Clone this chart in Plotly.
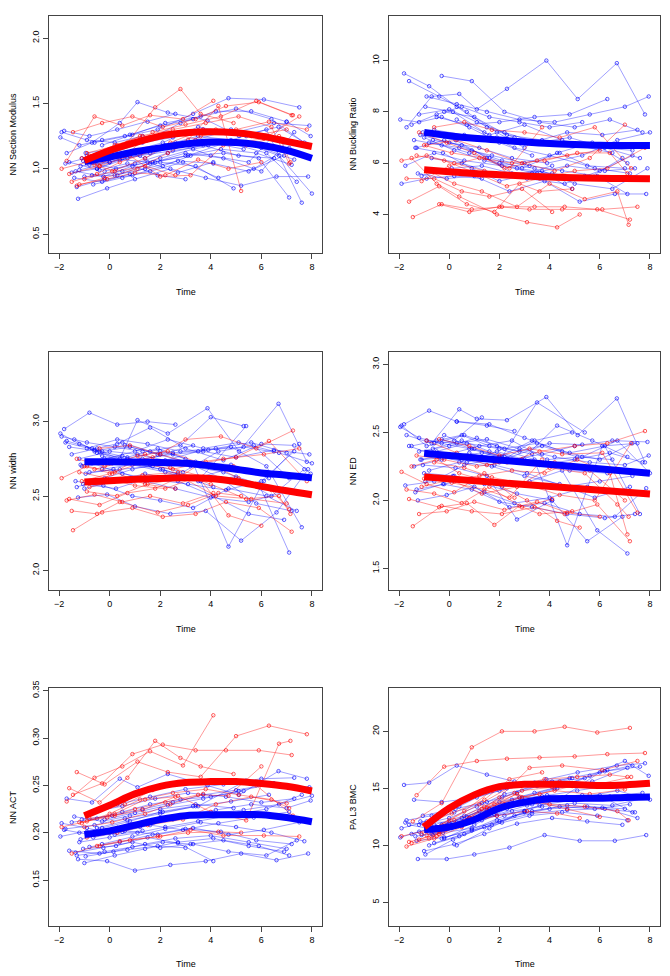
import plotly.graph_objects as go

# ---------------- data ----------------
blue_times = [
    [-1.95, -1.2, -0.3, 0.8, 2.0, 3.3],
    [-1.8, -0.8, 0.3, 1.5, 2.6],
    [-1.7, -0.7, 0.4, 1.1, 2.3, 3.87, 5.12, 6.68, 7.8],
    [-1.5, -0.5, 0.5, 1.6, 2.8, 4.0, 5.3],
    [-1.3, -0.2, 0.9, 2.1, 3.2, 4.5, 5.9, 7.1],
    [-1.2, 0.0, 1.1, 2.2, 3.5, 4.8, 6.2, 7.6],
    [-1.1, 0.1, 1.3, 2.5, 3.7, 5.0, 6.5, 7.9],
    [-1.0, 0.2, 1.4, 2.7, 4.1, 5.5, 6.9],
    [-0.9, 0.3, 1.5, 2.8, 4.2, 5.6, 7.0, 7.95],
    [-0.8, 0.4, 1.7, 3.0, 4.4, 5.8, 7.2],
    [-0.7, 0.5, 1.8, 3.1, 4.6, 6.0, 7.3],
    [-0.6, 0.6, 1.9, 3.3, 4.7, 6.1, 7.5],
    [-1.6, -0.4, 0.7, 1.9, 3.0],
    [-1.4, -0.3, 0.8, 2.0, 3.4, 4.9],
    [-1.25, -0.1, 1.0, 2.4, 3.8, 5.2, 6.6, 7.85],
    [-0.5, 0.7, 2.0, 3.4, 4.8, 6.3],
    [-0.3, 0.9, 2.2, 3.6, 5.0, 6.4, 7.7],
    [-1.9, -0.9, 0.2, 1.3],
    [-1.75, -0.6, 0.6, 2.1, 3.5, 5.4],
    [-1.15, 0.0, 1.2, 2.5, 3.9, 5.3, 6.7, 8.0],
    [-0.95, 0.15, 1.4, 2.6, 4.0, 5.5, 7.0],
    [-0.2, 1.0, 2.3, 3.7, 5.1, 6.5],
    [-1.35, -0.25, 0.9, 2.0, 3.3, 4.7, 6.2, 7.4],
    [-0.65, 0.5, 1.6, 2.9, 4.3, 5.7, 7.1],
    [-1.05, 0.25, 1.5, 2.7, 4.1],
    [0.3, 1.6, 3.0, 4.5, 6.0, 7.3],
]
red_times = [
    [-1.9, -0.9, 0.2, 1.4, 2.6],
    [-1.6, -0.4, 0.7, 1.8, 2.8, 3.6, 4.9],
    [-1.45, -0.3, 0.9, 2.1, 3.4, 4.6, 5.9, 7.2],
    [-1.3, -0.2, 1.1, 2.3, 3.6, 5.0, 6.3, 7.8],
    [-1.1, 0.0, 1.2, 2.5, 3.8, 5.1, 6.4, 7.1],
    [-0.9, 0.3, 1.5, 2.9, 4.2, 5.6, 7.0],
    [-0.6, 0.6, 1.7, 3.0, 4.4, 5.8, 7.25],
    [-1.7, -0.6, 0.5, 1.6, 2.9, 4.1],
    [-1.2, -0.1, 1.0, 2.2, 3.5, 4.7, 6.0],
    [-0.4, 0.8, 2.0, 3.2, 4.5, 6.1, 7.5],
    [-1.5, -0.5, 0.4, 1.9, 3.1, 4.3, 5.2],
    [-0.8, 0.2, 1.3, 2.7, 4.0, 5.4, 6.7, 7.15],
    [-1.0, 0.1, 1.4, 2.4, 3.7],
]

sm_blue = [
    [1.24, 1.18, 1.22, 1.26, 1.33, 1.38],
    [1.29, 1.25, 1.30, 1.36, 1.42],
    [1.12, 1.20, 1.35, 1.51, 1.43, 1.37, 1.25, 1.32, 1.19],
    [0.97, 1.00, 1.08, 1.12, 1.18, 1.20, 1.15],
    [0.86, 0.92, 0.95, 1.02, 1.10, 1.12, 1.08, 0.78],
    [0.99, 1.05, 1.13, 1.18, 1.25, 1.22, 1.30, 0.74],
    [1.08, 1.12, 1.20, 1.24, 1.30, 1.28, 1.35, 1.33],
    [0.94, 0.95, 1.00, 1.06, 1.04, 0.98, 1.10],
    [1.10, 1.15, 1.22, 1.35, 1.44, 1.44, 1.36, 1.25],
    [1.03, 1.07, 1.05, 1.10, 1.15, 1.12, 1.03],
    [0.95, 0.98, 1.05, 1.10, 1.20, 1.16, 1.07],
    [1.20, 1.25, 1.30, 1.42, 1.54, 1.53, 1.47],
    [1.05, 0.99, 1.04, 0.95, 0.92],
    [0.93, 0.90, 0.96, 1.05, 1.02, 0.85],
    [0.77, 0.85, 0.92, 1.00, 0.93, 0.87, 0.94, 0.94],
    [1.00, 1.08, 1.15, 1.22, 1.30, 1.24],
    [1.18, 1.26, 1.35, 1.40, 1.46, 1.38, 1.20],
    [1.28, 1.22, 1.20, 1.25],
    [1.04, 1.10, 1.12, 1.20, 1.32, 1.25],
    [1.02, 1.05, 1.10, 1.14, 1.18, 1.20, 1.10, 0.81],
    [1.12, 1.15, 1.08, 1.20, 1.10, 1.05, 1.36],
    [0.98, 1.04, 1.12, 1.18, 1.10, 1.08],
    [0.98, 0.94, 1.02, 1.08, 1.15, 1.20, 1.12, 0.90],
    [0.88, 0.93, 0.98, 1.05, 0.93, 1.00, 1.16],
    [1.06, 1.00, 1.05, 0.97, 1.05],
    [0.95, 1.04, 1.12, 1.08, 0.98, 1.28],
]
sm_red = [
    [1.00, 1.05, 0.98, 1.02, 0.95],
    [0.96, 1.02, 1.20, 1.47, 1.61, 1.42, 1.35],
    [1.28, 1.35, 1.40, 1.32, 1.38, 1.48, 1.51, 1.41],
    [0.87, 0.93, 1.00, 1.12, 1.25, 1.30, 1.36, 1.30],
    [1.08, 1.15, 1.25, 1.30, 1.35, 1.40, 1.32, 1.04],
    [1.12, 1.18, 1.22, 1.28, 1.30, 1.25, 1.30],
    [1.03, 1.10, 1.28, 1.34, 1.40, 1.52, 1.41],
    [1.06, 1.40, 1.33, 1.41, 1.38, 1.52],
    [0.88, 0.92, 0.97, 0.95, 1.07, 1.00, 1.05],
    [1.02, 1.10, 0.94, 0.95, 1.18, 1.23, 1.40],
    [0.90, 0.96, 1.05, 1.15, 1.22, 1.48, 0.83],
    [1.10, 1.18, 1.25, 1.26, 1.20, 1.18, 1.25, 1.05],
    [0.92, 0.98, 1.08, 1.20, 1.30],
]

br_blue = [
    [7.7, 7.6, 7.8, 7.4, 6.8, 6.3],
    [9.5, 9.0, 8.2, 7.4, 7.0],
    [7.4, 8.6, 8.7, 8.1, 8.9, 10.0, 8.5, 9.9, 7.9],
    [7.5, 7.9, 8.2, 7.8, 7.6, 7.4, 7.6],
    [6.6, 6.9, 6.5, 6.1, 5.9, 5.7, 5.5, 4.8],
    [7.9, 8.1, 7.6, 7.2, 6.8, 7.0, 6.6, 6.2],
    [5.5, 5.8, 5.9, 5.6, 5.7, 5.2, 5.0, 5.8],
    [7.0, 6.5, 6.1, 5.8, 5.6, 5.4, 6.2],
    [8.6, 8.3, 8.0, 7.7, 7.6, 7.9, 8.2, 8.6],
    [6.8, 6.6, 6.3, 6.0, 6.4, 5.8, 5.6],
    [6.2, 6.0, 5.6, 5.4, 5.2, 5.7, 6.3],
    [7.3, 7.1, 7.0, 6.8, 7.2, 7.1, 7.3],
    [9.2, 8.6, 8.0, 7.2, 6.6],
    [6.9, 6.7, 6.4, 6.0, 5.8, 5.0],
    [5.6, 5.4, 5.5, 4.9, 5.3, 4.5, 4.8, 4.8],
    [7.8, 7.5, 7.6, 7.8, 7.9, 8.5],
    [9.4, 9.2, 8.0, 7.6, 7.4, 7.7, 7.2],
    [5.2, 5.4, 5.5, 5.4],
    [5.9, 6.4, 6.1, 5.9, 5.6, 5.5],
    [7.1, 6.8, 6.6, 6.2, 6.0, 6.3, 6.9, 7.2],
    [8.2, 8.0, 7.2, 6.6, 6.3, 5.9, 5.8],
    [8.0, 7.8, 7.1, 6.9, 6.7, 6.4],
    [6.6, 6.4, 5.8, 5.3, 5.6, 5.9, 5.7, 5.8],
    [6.9, 6.7, 6.2, 5.8, 6.4, 6.8, 6.0],
    [7.2, 6.9, 6.2, 5.5, 5.9],
    [7.7, 7.1, 7.5, 6.9, 6.6, 6.5],
]
br_red = [
    [6.1, 6.3, 6.0, 5.7, 5.5],
    [4.5, 5.1, 4.4, 4.1, 5.2, 4.9, 5.0],
    [3.9, 4.4, 4.2, 4.3, 4.3, 4.3, 4.2, 3.8],
    [6.3, 6.1, 5.6, 5.1, 5.4, 5.7, 5.8, 6.6],
    [5.3, 5.9, 6.2, 6.0, 6.1, 6.4, 6.4, 5.6],
    [6.7, 6.9, 6.5, 6.0, 5.7, 6.2, 7.5],
    [7.4, 7.6, 7.3, 7.2, 7.0, 7.4, 5.8],
    [5.4, 5.4, 4.9, 4.7, 5.0, 4.1],
    [7.2, 6.8, 6.4, 5.8, 6.1, 6.3, 6.5],
    [4.4, 4.1, 4.3, 4.2, 4.2, 4.2, 4.3],
    [6.2, 5.2, 4.7, 4.0, 3.7, 3.5, 4.0],
    [5.7, 5.2, 4.9, 4.3, 5.2, 4.6, 4.9, 3.6],
    [6.7, 6.4, 6.2, 5.8, 7.4],
]

wd_blue = [
    [2.92, 2.85, 2.80, 2.83, 2.78, 2.84],
    [2.95, 3.06, 2.98, 3.00, 2.98],
    [2.87, 2.82, 2.75, 3.01, 2.92, 3.09, 2.80, 3.12, 2.73],
    [2.78, 2.82, 2.86, 2.80, 2.84, 3.03, 2.97],
    [2.56, 2.62, 2.68, 2.72, 2.70, 2.66, 2.58, 2.12],
    [2.75, 2.80, 2.78, 2.74, 2.80, 2.83, 2.70, 2.29],
    [2.70, 2.72, 2.75, 2.78, 2.80, 2.76, 2.81, 2.78],
    [2.55, 2.60, 2.65, 2.60, 2.50, 2.38, 2.34],
    [2.82, 2.88, 2.85, 2.80, 2.82, 2.86, 2.79, 2.65],
    [2.66, 2.68, 2.70, 2.73, 2.62, 2.45, 2.40],
    [2.72, 2.65, 2.61, 2.58, 2.54, 2.60, 2.80],
    [2.80, 2.84, 2.78, 2.72, 2.16, 2.60, 2.85],
    [2.83, 2.80, 2.76, 2.82, 2.75],
    [2.88, 2.77, 2.73, 2.68, 2.62, 2.69],
    [2.49, 2.51, 2.43, 2.38, 2.40, 2.20, 2.39, 2.68],
    [2.79, 2.75, 2.80, 2.73, 2.71, 2.62],
    [2.68, 2.71, 2.66, 2.60, 2.63, 2.50, 2.68],
    [2.90, 2.86, 2.83, 2.80],
    [2.86, 2.81, 2.72, 2.68, 2.60, 2.97],
    [2.71, 2.72, 2.74, 2.79, 2.81, 2.83, 2.79, 2.72],
    [2.65, 2.68, 2.60, 2.55, 2.49, 2.46, 2.53],
    [2.75, 2.80, 2.88, 2.82, 2.86, 2.80],
    [2.60, 2.57, 2.50, 2.47, 2.42, 2.55, 2.50, 2.40],
    [2.73, 2.77, 2.71, 2.66, 2.80, 2.84, 2.62],
    [2.58, 2.55, 2.62, 2.65, 2.56],
    [2.85, 2.96, 2.82, 2.74, 2.85, 2.84],
]
wd_red = [
    [2.62, 2.70, 2.66, 2.58, 2.55],
    [2.48, 2.44, 2.52, 2.55, 2.63, 2.72, 2.70],
    [2.27, 2.39, 2.42, 2.36, 2.38, 2.46, 2.42, 2.26],
    [2.75, 2.70, 2.77, 2.80, 2.72, 2.76, 2.87, 2.60],
    [2.60, 2.65, 2.72, 2.68, 2.73, 2.62, 2.54, 2.41],
    [2.53, 2.50, 2.58, 2.62, 2.50, 2.48, 2.45],
    [2.68, 2.73, 2.76, 2.88, 2.90, 2.82, 2.94],
    [2.47, 2.51, 2.46, 2.50, 2.45, 2.52],
    [2.66, 2.62, 2.57, 2.55, 2.63, 2.37, 2.30],
    [2.82, 2.84, 2.78, 2.72, 2.75, 2.78, 2.82],
    [2.40, 2.38, 2.46, 2.39, 2.44, 2.52, 2.50],
    [2.56, 2.60, 2.64, 2.66, 2.58, 2.48, 2.50, 2.38],
    [2.70, 2.65, 2.78, 2.69, 2.63],
]

ed_blue = [
    [2.54, 2.46, 2.42, 2.38, 2.32, 2.44],
    [2.56, 2.66, 2.58, 2.55, 2.51],
    [2.48, 2.42, 2.67, 2.60, 2.59, 2.76, 2.48, 2.75, 2.28],
    [2.40, 2.44, 2.48, 2.40, 2.36, 2.42, 2.41],
    [2.08, 2.12, 2.16, 2.10, 2.14, 2.22, 1.78, 1.61],
    [2.36, 2.40, 2.46, 2.38, 2.42, 2.35, 2.40, 1.90],
    [2.30, 2.32, 2.35, 2.30, 2.34, 2.40, 2.44, 2.43],
    [2.20, 2.18, 2.12, 2.05, 2.00, 1.70, 1.88],
    [2.44, 2.42, 2.45, 2.38, 2.32, 2.28, 2.26, 2.33],
    [2.22, 2.28, 2.25, 2.18, 2.12, 2.02, 2.10],
    [2.35, 2.30, 2.26, 2.20, 2.10, 2.14, 2.18],
    [2.42, 2.48, 2.40, 2.34, 1.67, 2.40, 2.42],
    [2.40, 2.32, 2.28, 2.36, 2.30],
    [2.25, 2.30, 2.35, 2.28, 2.44, 2.50],
    [2.00, 2.04, 2.10, 1.95, 1.98, 1.90, 1.88, 2.09],
    [2.36, 2.42, 2.38, 2.30, 2.22, 2.20],
    [2.45, 2.38, 2.32, 2.26, 2.30, 2.35, 2.28],
    [2.55, 2.40, 2.44, 2.61],
    [2.11, 2.14, 2.26, 2.32, 2.72, 2.50],
    [2.30, 2.34, 2.40, 2.44, 2.30, 2.32, 2.44, 2.20],
    [2.14, 2.18, 2.06, 1.98, 2.02, 2.10, 2.06],
    [2.48, 2.38, 2.31, 2.40, 2.32, 2.30],
    [2.06, 2.12, 2.08, 1.99, 1.95, 1.90, 1.87, 1.90],
    [2.38, 2.44, 2.36, 2.30, 2.55, 2.44, 2.32],
    [2.26, 2.24, 2.18, 1.86, 2.00],
    [2.58, 2.56, 2.46, 2.36, 2.30, 2.42],
]
ed_red = [
    [2.21, 2.12, 2.06, 2.20, 2.02],
    [2.01, 1.95, 1.98, 1.82, 1.96, 1.90, 1.92],
    [1.81, 1.96, 1.92, 1.90, 1.95, 1.90, 1.97, 1.70],
    [2.33, 2.30, 2.25, 2.28, 2.36, 2.40, 2.42, 2.51],
    [2.10, 2.15, 2.18, 2.22, 2.20, 2.30, 2.20, 1.75],
    [2.44, 2.35, 2.26, 2.30, 2.28, 2.22, 2.00],
    [2.28, 2.24, 2.17, 2.12, 2.04, 2.00, 2.42],
    [2.08, 2.05, 1.98, 2.10, 1.95, 2.01],
    [1.90, 1.92, 1.99, 1.93, 1.99, 1.91, 1.88],
    [2.45, 2.40, 2.33, 2.38, 2.34, 2.35, 1.91],
    [2.25, 2.30, 2.20, 2.12, 2.00, 1.85, 1.80],
    [2.18, 2.14, 2.05, 2.10, 2.24, 2.20, 1.97, 1.88],
    [2.16, 2.13, 2.08, 2.02, 2.30],
]

act_blue = [
    [0.196, 0.200, 0.205, 0.212, 0.222, 0.228],
    [0.203, 0.198, 0.205, 0.210, 0.215],
    [0.236, 0.232, 0.257, 0.248, 0.262, 0.250, 0.240, 0.265, 0.257],
    [0.211, 0.215, 0.222, 0.230, 0.235, 0.238, 0.244],
    [0.176, 0.180, 0.185, 0.190, 0.188, 0.192, 0.186, 0.176],
    [0.190, 0.195, 0.200, 0.206, 0.212, 0.218, 0.225, 0.240],
    [0.214, 0.218, 0.225, 0.232, 0.240, 0.245, 0.252, 0.248],
    [0.168, 0.176, 0.183, 0.190, 0.194, 0.186, 0.180],
    [0.201, 0.205, 0.212, 0.218, 0.224, 0.230, 0.226, 0.234],
    [0.185, 0.190, 0.198, 0.204, 0.201, 0.192, 0.188],
    [0.222, 0.228, 0.236, 0.242, 0.238, 0.232, 0.236],
    [0.198, 0.202, 0.198, 0.205, 0.198, 0.203, 0.211],
    [0.181, 0.178, 0.182, 0.186, 0.184],
    [0.217, 0.212, 0.218, 0.225, 0.230, 0.226],
    [0.172, 0.170, 0.160, 0.166, 0.170, 0.178, 0.171, 0.178],
    [0.205, 0.213, 0.220, 0.228, 0.233, 0.240],
    [0.188, 0.196, 0.204, 0.211, 0.206, 0.200, 0.191],
    [0.210, 0.205, 0.198, 0.202],
    [0.204, 0.208, 0.215, 0.222, 0.228, 0.255],
    [0.193, 0.200, 0.206, 0.214, 0.220, 0.224, 0.230, 0.239],
    [0.175, 0.180, 0.188, 0.194, 0.197, 0.190, 0.183],
    [0.214, 0.221, 0.229, 0.236, 0.244, 0.252],
    [0.179, 0.184, 0.190, 0.184, 0.188, 0.180, 0.176, 0.192],
    [0.195, 0.201, 0.208, 0.203, 0.210, 0.216, 0.222],
    [0.183, 0.186, 0.195, 0.189, 0.170],
    [0.230, 0.238, 0.246, 0.251, 0.257, 0.258],
]
act_red = [
    [0.206, 0.212, 0.220, 0.235, 0.238],
    [0.247, 0.232, 0.258, 0.297, 0.279, 0.270, 0.262],
    [0.240, 0.252, 0.283, 0.293, 0.287, 0.287, 0.287, 0.282],
    [0.264, 0.251, 0.275, 0.264, 0.259, 0.302, 0.313, 0.304],
    [0.210, 0.220, 0.235, 0.242, 0.246, 0.240, 0.235, 0.226],
    [0.195, 0.200, 0.208, 0.214, 0.230, 0.238, 0.231],
    [0.222, 0.230, 0.245, 0.253, 0.255, 0.250, 0.218],
    [0.233, 0.258, 0.270, 0.286, 0.271, 0.324],
    [0.211, 0.216, 0.225, 0.232, 0.240, 0.239, 0.270],
    [0.186, 0.192, 0.196, 0.203, 0.197, 0.197, 0.196],
    [0.178, 0.186, 0.191, 0.196, 0.200, 0.201, 0.200],
    [0.215, 0.218, 0.224, 0.239, 0.222, 0.213, 0.294, 0.297],
    [0.206, 0.211, 0.220, 0.230, 0.241],
]

bmc_blue = [
    [10.7, 11.2, 11.8, 12.4, 13.2, 13.6],
    [15.3, 15.5, 17.0, 16.2, 15.6],
    [12.2, 12.6, 13.4, 14.2, 15.0, 15.8, 16.4, 17.0, 17.2],
    [11.0, 11.6, 12.4, 13.2, 13.8, 14.2, 14.4],
    [10.4, 10.7, 11.3, 12.0, 12.6, 12.9, 12.6, 12.2],
    [11.8, 12.4, 13.4, 14.5, 15.2, 15.9, 16.5, 16.9],
    [10.9, 11.5, 12.2, 13.0, 13.4, 13.7, 13.5, 14.2],
    [9.5, 10.1, 11.0, 11.9, 12.4, 12.1, 11.8],
    [11.3, 12.0, 13.1, 14.2, 15.0, 16.1, 17.4, 16.1],
    [10.0, 10.8, 11.8, 12.9, 13.4, 13.2, 13.6],
    [11.0, 11.8, 12.7, 13.5, 14.0, 14.4, 12.9],
    [10.2, 11.0, 12.2, 13.0, 13.5, 13.3, 12.4],
    [11.8, 11.3, 12.2, 12.6, 13.0],
    [14.0, 13.8, 14.1, 14.8, 15.5, 15.9],
    [8.8, 8.8, 9.2, 9.8, 10.9, 10.4, 10.4, 10.9],
    [11.6, 12.5, 13.8, 14.6, 15.4, 16.6],
    [10.6, 11.4, 12.6, 13.5, 14.0, 14.3, 14.6],
    [11.5, 12.1, 12.9, 13.7],
    [12.0, 11.8, 12.6, 14.2, 15.4, 15.9],
    [12.1, 12.0, 13.0, 14.0, 14.4, 14.2, 14.8, 14.0],
    [9.2, 10.5, 11.6, 12.6, 13.2, 13.4, 13.2],
    [10.6, 11.8, 13.2, 14.3, 14.8, 15.3],
    [10.8, 11.1, 11.5, 12.1, 12.8, 13.1, 13.2, 12.9],
    [10.9, 11.7, 12.9, 14.1, 15.0, 15.6, 16.8],
    [12.6, 13.2, 13.8, 14.6, 15.6],
    [10.0, 11.5, 13.0, 14.2, 16.4, 17.0],
]
bmc_red = [
    [10.8, 11.3, 12.2, 13.4, 14.6],
    [10.3, 11.0, 12.0, 13.6, 14.2, 14.5, 15.2],
    [12.1, 13.7, 18.6, 20.0, 20.0, 20.4, 19.9, 20.3],
    [14.4, 16.9, 17.4, 17.6, 17.7, 17.8, 18.0, 18.1],
    [11.0, 12.2, 13.6, 15.2, 15.8, 16.0, 16.2, 16.0],
    [10.9, 11.8, 13.3, 14.2, 14.8, 14.5, 14.9],
    [11.5, 13.0, 14.8, 15.4, 15.6, 15.3, 16.0],
    [9.9, 10.6, 11.6, 13.2, 14.8, 15.1],
    [10.5, 11.4, 12.4, 13.6, 13.8, 13.2, 12.5],
    [11.2, 12.4, 14.2, 16.8, 17.0, 16.6, 17.4],
    [10.2, 10.8, 11.8, 12.6, 13.0, 12.8, 12.4],
    [10.6, 11.8, 13.2, 14.5, 13.6, 13.4, 13.0, 12.2],
    [11.8, 12.8, 14.0, 15.8, 16.4],
]

# fitted mean curves at integer times
mean_t = [-1, 0, 1, 2, 3, 4, 5, 6, 7, 8]
sm_mean_blue = [1.055, 1.09, 1.13, 1.16, 1.19, 1.205, 1.20, 1.18, 1.14, 1.08]
sm_mean_red = [1.062, 1.14, 1.20, 1.25, 1.275, 1.283, 1.275, 1.25, 1.21, 1.17]
br_mean_blue = [7.2, 7.07, 6.97, 6.9, 6.83, 6.77, 6.73, 6.70, 6.69, 6.69]
br_mean_red = [5.74, 5.67, 5.6, 5.55, 5.5, 5.46, 5.43, 5.41, 5.4, 5.39]
wd_mean_blue = [2.731, 2.73, 2.728, 2.725, 2.72, 2.702, 2.68, 2.655, 2.64, 2.622]
wd_mean_red = [2.595, 2.603, 2.612, 2.618, 2.622, 2.618, 2.598, 2.565, 2.535, 2.509]
ed_mean_blue = [2.346, 2.33, 2.314, 2.297, 2.281, 2.265, 2.249, 2.232, 2.216, 2.2]
ed_mean_red = [2.173, 2.159, 2.145, 2.131, 2.117, 2.103, 2.089, 2.075, 2.061, 2.047]
act_mean_blue = [0.198, 0.202, 0.208, 0.214, 0.218, 0.219, 0.219, 0.219, 0.216, 0.2115]
act_mean_red = [0.218, 0.229, 0.241, 0.249, 0.253, 0.254, 0.254, 0.252, 0.249, 0.244]
bmc_mean_blue = [11.38, 11.61, 12.25, 13.26, 13.79, 14.08, 14.12, 14.13, 14.2, 14.25]
bmc_mean_red = [11.61, 13.26, 14.43, 15.15, 15.35, 15.36, 15.33, 15.25, 15.3, 15.44]

y_titles = ["NN Section Modulus", "NN Buckling Ratio", "NN width", "NN ED", "NN ACT", "PA L3 BMC"]
x_ticks = [-2, 0, 2, 4, 6, 8]
y_ticks = [
    [0.5, 1.0, 1.5, 2.0],
    [4, 6, 8, 10],
    [2.0, 2.5, 3.0],
    [1.5, 2.0, 2.5, 3.0],
    [0.15, 0.20, 0.25, 0.30, 0.35],
    [5, 10, 15, 20],
]

# ---------------- layout geometry ----------------
W, H = 670, 976
col_px = [(49, 322), (389, 660)]
row_px = [(8, 247), (347.3, 586.7), (686, 925.3)]
y_ranges = [
    [0.355, 2.17],
    [2.5, 11.74],
    [1.869, 3.465],
    [1.342, 3.088],
    [0.1018, 0.3524],
    [2.95, 23.77],
]
y_formats = [".1f", "d", ".1f", ".1f", ".2f", "d"]

panels = [
    (sm_blue, sm_red, sm_mean_blue, sm_mean_red, "spline"),
    (br_blue, br_red, br_mean_blue, br_mean_red, "spline"),
    (wd_blue, wd_red, wd_mean_blue, wd_mean_red, "spline"),
    (ed_blue, ed_red, ed_mean_blue, ed_mean_red, "linear"),
    (act_blue, act_red, act_mean_blue, act_mean_red, "spline"),
    (bmc_blue, bmc_red, bmc_mean_blue, bmc_mean_red, "spline"),
]


def flatten(times, vals):
    xs, ys = [], []
    assert len(times) == len(vals)
    for t, v in zip(times, vals):
        assert len(t) == len(v), (t, v)
        xs += list(t) + [None]
        ys += list(v) + [None]
    return xs, ys


FONT = "Liberation Sans, Arial, Helvetica, sans-serif"
AXC = "#444444"
fig = go.Figure()
layout = dict(
    width=W, height=H, margin=dict(l=0, r=0, t=0, b=0, pad=0),
    paper_bgcolor="white", plot_bgcolor="white",
    showlegend=False, hovermode=False,
    font=dict(family=FONT, size=9, color="black"),
)
annotations = []

for i, (bv, rv, mb, mr, shape) in enumerate(panels):
    r, c = divmod(i, 2)
    k = i + 1
    xa = "x" if k == 1 else f"x{k}"
    ya = "y" if k == 1 else f"y{k}"
    bx, by = flatten(blue_times, bv)
    rx, ry = flatten(red_times, rv)
    fig.add_trace(go.Scatter(
        x=bx, y=by, xaxis=xa, yaxis=ya, mode="lines+markers",
        line=dict(color="rgba(0,0,255,0.42)", width=0.9),
        marker=dict(symbol="circle-open", size=3.5, color="rgba(0,0,255,0.7)", line=dict(width=0.9)),
        connectgaps=False))
    fig.add_trace(go.Scatter(
        x=rx, y=ry, xaxis=xa, yaxis=ya, mode="lines+markers",
        line=dict(color="rgba(255,0,0,0.45)", width=0.9),
        marker=dict(symbol="circle-open", size=3.5, color="rgba(255,0,0,0.7)", line=dict(width=0.9)),
        connectgaps=False))
    fig.add_trace(go.Scatter(
        x=mean_t, y=mb, xaxis=xa, yaxis=ya, mode="lines",
        line=dict(color="#0000FF", width=7, shape=shape)))
    fig.add_trace(go.Scatter(
        x=mean_t, y=mr, xaxis=xa, yaxis=ya, mode="lines",
        line=dict(color="#FF0000", width=7, shape=shape)))

    x0, x1 = col_px[c]
    y0, y1 = row_px[r]
    axis_common = dict(
        showline=True, linecolor=AXC, linewidth=1, mirror=True,
        ticks="outside", ticklen=5, tickwidth=1, tickcolor=AXC,
        showgrid=False, zeroline=False, tickfont=dict(size=9, family=FONT),
    )
    layout["xaxis" if k == 1 else f"xaxis{k}"] = dict(
        domain=[x0 / W, x1 / W], range=[-2.4, 8.4], tickvals=x_ticks,
        anchor=ya, **axis_common)
    layout["yaxis" if k == 1 else f"yaxis{k}"] = dict(
        domain=[1 - y1 / H, 1 - y0 / H], range=y_ranges[i], tickvals=y_ticks[i],
        tickformat=y_formats[i], tickangle=-90, anchor=xa, **axis_common)
    annotations.append(dict(
        text="Time", xref="paper", yref="paper",
        x=(x0 + x1) / 2 / W, y=1 - (y1 + 39) / H,
        xanchor="center", yanchor="middle", showarrow=False,
        font=dict(size=9, family=FONT)))
    annotations.append(dict(
        text=y_titles[i], xref="paper", yref="paper",
        x=(x0 - 36) / W, y=1 - (y0 + y1) / 2 / H, textangle=-90,
        xanchor="center", yanchor="middle", showarrow=False,
        font=dict(size=9, family=FONT)))

layout["annotations"] = annotations
fig.update_layout(**layout)
fig.write_html(
    "out.html",
    config={"displayModeBar": False, "staticPlot": True},
    post_script="document.body.style.margin='0';document.body.style.padding='0';document.body.style.overflow='hidden';",
)
